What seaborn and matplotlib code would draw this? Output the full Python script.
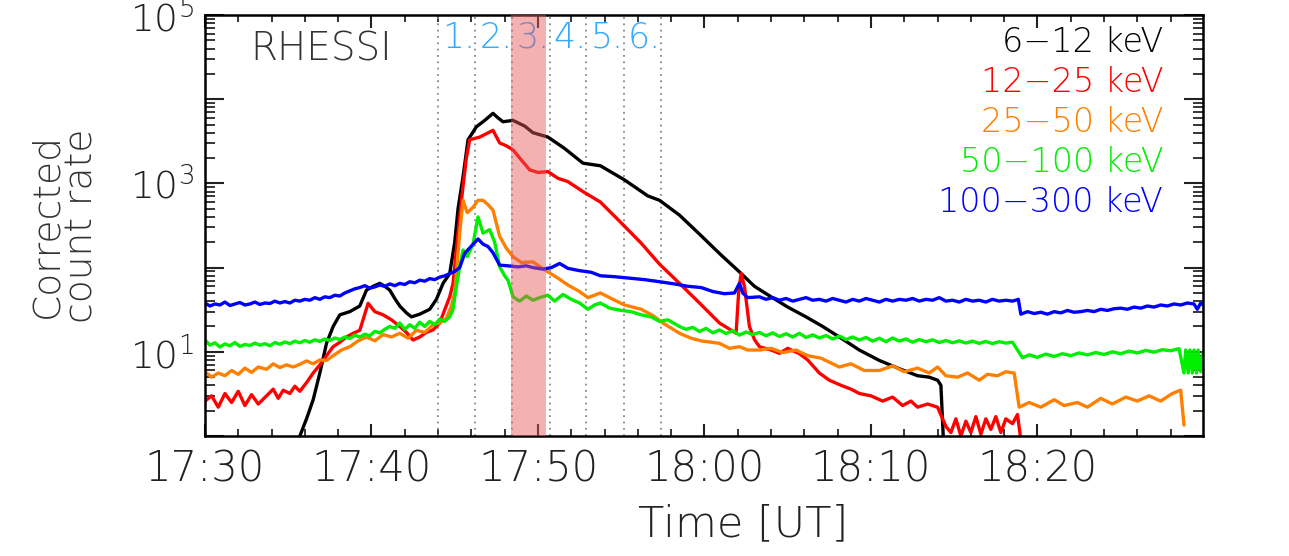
import numpy as np
import pandas as pd
import matplotlib
matplotlib.use("Agg")
import matplotlib.pyplot as plt
import matplotlib.dates as mdates
import matplotlib.ticker as mticker
import seaborn as sns

# minutes after 17:30 UT, corrected count rate
t_6_12 = [5.7, 6.1, 6.5, 6.9, 7.3, 7.7, 8.1, 8.7, 9.3, 9.7, 10.1, 10.5, 10.8, 11.1, 11.4, 11.7,
          12.1, 12.4, 12.9, 13.5, 13.9, 14.3, 14.7, 15.0, 15.2, 15.5, 15.8, 16.3, 16.8, 17.3,
          17.6, 17.9, 18.5, 19.2, 19.7, 20.6, 21.6, 22.7, 23.75, 25.2, 26.6, 27.3, 28.5, 29.7,
          31.0, 32.1, 33.0, 34.0, 35.0, 36.1, 37.1, 38.1, 39.3, 40.5, 41.7, 42.8, 43.5, 44.0,
          44.2, 44.35]
c_6_12 = [1.0, 1.6, 2.7, 5.6, 12.6, 20, 27.5, 30, 35, 54, 60, 65, 60, 54, 43, 35,
          29, 26, 28, 32, 42, 65, 85, 200, 500, 1200, 3300, 4700, 5600, 6800,
          6000, 5400, 5600, 4800, 4000, 3550, 2600, 1740, 1620, 1100, 710, 630, 420, 250,
          141, 89, 60, 45, 34, 26, 20, 15, 10.5, 7.9, 6.3, 5.2, 5.0, 4.6,
          4.0, 0.9]

t_12_25 = [0.0, 0.4, 0.8, 1.2, 1.6, 2.0, 2.4, 2.8, 3.2, 3.7, 4.1, 4.4, 4.7, 5.1, 5.4, 5.7,
           6.1, 6.5, 6.9, 7.3, 7.7, 8.1, 8.5, 8.9, 9.3, 9.8, 10.2, 10.7, 11.2, 11.7, 12.1,
           12.5, 12.9, 13.3, 13.7, 14.1, 14.4, 14.7, 14.9, 15.2, 15.45, 15.7, 15.9, 16.5,
           17.3, 17.7, 18.1, 18.5, 19.0, 19.5, 20.0, 20.6, 21.2, 21.8, 22.7, 23.75, 25.0,
           26.2, 27.3, 28.5, 29.7, 30.9, 31.9, 32.05, 32.2, 32.4, 32.7, 33.0, 33.3, 34.0,
           34.5, 35.0, 35.7, 36.2, 36.9, 37.5, 38.2, 38.8, 39.3, 40.0, 40.7, 41.3, 41.9,
           42.4, 42.8, 43.4, 44.0, 44.3, 44.5, 44.8, 45.1, 45.4, 45.7, 46.0, 46.3, 46.6,
           46.9, 47.2, 47.5, 47.8, 48.1, 48.5, 48.8, 49.0]
c_12_25 = [2.6, 3.0, 2.2, 3.2, 2.5, 3.4, 2.3, 3.1, 2.4, 3.0, 3.6, 2.8, 3.5, 3.2, 3.9, 3.4,
           4.3, 5.6, 7.0, 9.0, 11.5, 13, 15, 16.6, 18, 37.7, 30, 27.5, 24, 20, 17,
           13.8, 15, 17, 18.2, 22, 31.6, 45, 65, 257, 760, 2000, 3300, 3550,
           4270, 3020, 2800, 2500, 1900, 1450, 1350, 1380, 1150, 1050, 800, 600, 340,
           195, 110, 65, 38, 22, 16.6, 50, 85, 60, 20, 14, 11.5, 10.5,
           9.6, 11, 9.5, 8, 5.6, 4.6, 4.0, 3.6, 3.2, 3.0, 2.6, 2.9, 2.3,
           2.6, 2.2, 2.4, 2.2, 1.6, 1.3, 1.1, 1.6, 1.0, 1.5, 1.1, 1.7, 1.05,
           1.6, 1.2, 1.7, 1.1, 1.6, 1.4, 1.8, 0.9]

t_25_50 = [0.0, 0.4, 0.8, 1.2, 1.6, 2.0, 2.4, 2.8, 3.2, 3.7, 4.1, 4.5, 4.9, 5.3, 5.7, 6.1,
           6.5, 6.9, 7.3, 7.7, 8.2, 8.7, 9.2, 9.7, 10.2, 10.7, 11.2, 11.7, 12.2, 12.7, 13.2,
           13.7, 14.1, 14.5, 14.8, 15.0, 15.3, 15.5, 15.75, 16.1, 16.4, 16.7, 17.0, 17.3,
           17.7, 18.1, 18.5, 19.0, 19.7, 20.2, 20.6, 21.2, 21.8, 22.5, 23.0, 23.75, 24.5,
           25.2, 26.2, 26.9, 27.5, 28.5, 29.2, 29.8, 30.9, 31.5, 32.1, 32.6, 33.3, 34.0,
           34.7, 35.5, 36.2, 37.0, 38.1, 38.8, 39.6, 40.5, 41.3, 42.0, 42.8, 43.5, 44.0,
           44.5, 45.2, 45.8, 46.5, 47.0, 47.6, 48.1, 48.6, 48.9, 49.5, 50.2, 51.0, 51.6,
           52.4, 53.0, 53.8, 54.5, 55.3, 56.0, 56.7, 57.4, 58.1, 58.6, 58.8]
c_25_50 = [5.8, 5.0, 5.6, 5.2, 6.0, 5.4, 6.4, 5.7, 6.6, 6.2, 7.2, 6.5, 7.0, 6.6, 7.1, 7.8,
           7.2, 8.0, 7.9, 9.0, 10.5, 11.5, 13.5, 15, 13.5, 16, 15, 16.6, 14.5, 18, 17,
           21, 22, 25, 35, 50, 257, 630, 450, 520, 630, 630, 560, 480,
           235, 170, 135, 115, 117, 100, 89, 75, 62, 52, 44, 50, 42,
           36, 32, 27, 22, 16.6, 14.5, 13.5, 12.6, 11, 11.5, 10.5, 10.5, 11,
           9.8, 10.5, 9.0, 8.4, 6.6, 7.2, 6.0, 6.0, 6.8, 5.8, 6.4, 5.6, 6.6,
           5.2, 5.0, 5.6, 4.6, 5.4, 5.2, 5.8, 5.6, 2.2, 2.5, 2.2, 2.7, 2.3,
           2.5, 2.2, 2.8, 2.4, 2.9, 2.6, 3.0, 2.6, 3.2, 3.5, 1.35]

t_50_100 = [0.0, 0.3, 0.6, 0.9, 1.2, 1.5, 1.8, 2.1, 2.4, 2.7, 3.0, 3.3, 3.6, 3.9, 4.2, 4.5,
            4.8, 5.1, 5.4, 5.7, 6.0, 6.3, 6.6, 6.9, 7.2, 7.5, 7.8, 8.1, 8.4, 8.7, 9.0, 9.3,
            9.6, 9.9, 10.2, 10.5, 10.8, 11.1, 11.4, 11.7, 12.0, 12.3, 12.6, 12.9, 13.2, 13.5,
            13.8, 14.1, 14.4, 14.7,
            14.9, 15.1, 15.3, 15.5, 15.75, 16.1, 16.4, 16.7, 17.1, 17.4, 17.7, 18.0, 18.2,
            18.5, 18.9, 19.3, 19.7, 20.1, 20.6, 21.0, 21.5, 22.0, 22.5, 23.0, 23.4, 23.75,
            24.3, 25.0, 25.6, 26.2, 26.8, 27.3, 27.8,
            28.5, 28.9, 29.3, 29.7, 30.1, 30.5, 30.9, 31.3, 31.7, 32.1, 32.5, 32.9, 33.3,
            33.7, 34.1, 34.5, 34.9, 35.3, 35.7, 36.1, 36.5, 36.9, 37.3, 37.7, 38.1, 38.5,
            38.9, 39.3, 39.7, 40.1, 40.5, 40.9, 41.3, 41.7, 42.1, 42.5, 42.9, 43.3, 43.7,
            44.1, 44.5, 44.9, 45.3, 45.7, 46.1, 46.5, 46.9, 47.3, 47.7, 48.1, 48.5,
            49.1, 49.5, 50.0, 50.5, 51.0, 51.5, 52.0, 52.5, 53.0, 53.5, 54.0, 54.5, 55.0,
            55.5, 56.0, 56.5, 57.0, 57.5, 58.0, 58.5,
            58.8, 58.9, 59.05, 59.15, 59.3, 59.4, 59.55, 59.65, 59.8, 59.95]
c_50_100 = [13.8, 12.0, 12.8, 11.4, 12.4, 11.8, 12.9, 11.6, 12.2, 11.9, 12.7, 12.0, 12.5, 11.8, 12.9, 12.3,
            13.1, 12.5, 13.4, 12.8, 13.6, 13.0, 13.9, 13.3, 14.2, 13.6, 14.6, 14.0, 15.0, 14.4, 15.8, 15.0,
            16.2, 15.5, 17.5, 16.8, 18.5, 20, 19, 22, 18.5, 21, 19, 22.5, 20, 23,
            21, 24.5, 23, 26,
            32, 60, 102, 162, 135, 190, 400, 257, 282, 200, 102, 80, 71,
            45, 40, 46, 41, 44, 47, 40, 48, 42, 38, 32, 36, 38,
            33, 31, 30, 27.5, 26, 23, 24,
            20, 18.5, 19.5, 17.4, 19, 16.8, 18.2, 16.5, 17.8, 15.8, 17.2, 16.0, 17.0,
            15.5, 16.8, 15.2, 16.4, 15.0, 16.6, 14.8, 15.9, 14.6, 15.6, 14.2, 15.4, 14.0,
            15.0, 13.8, 14.8, 13.4, 14.5, 13.2, 14.6, 13.4, 14.2, 13.0, 14.0, 13.2, 13.9,
            12.9, 13.6, 12.8, 13.5, 12.7, 13.4, 12.6, 13.3, 12.5, 13.2, 12.7, 13.0,
            8.5, 9.2, 8.6, 9.4, 8.8, 9.5, 9.0, 9.7, 9.2, 9.8, 9.3, 10.0, 9.5,
            10.2, 9.7, 10.4, 9.9, 10.6, 10.3, 10.9,
            5.6, 10.5, 5.6, 10.5, 5.6, 10.5, 5.6, 10.5, 5.8, 10.0]

t_100_300 = [0.0, 0.3, 0.6, 0.9, 1.2, 1.5, 1.8, 2.1, 2.4, 2.7, 3.0, 3.3, 3.6, 3.9, 4.2, 4.5,
             4.8, 5.1, 5.4, 5.7, 6.0, 6.3, 6.6, 6.9, 7.2, 7.5, 7.8, 8.1, 8.4, 8.7, 9.0, 9.3,
             9.6, 9.9, 10.2, 10.5, 10.8, 11.1, 11.4, 11.7, 12.0, 12.3, 12.6, 12.9, 13.2, 13.5,
             13.8, 14.1, 14.4, 14.7, 15.0,
             15.3, 15.6, 16.0, 16.4, 16.7, 17.0, 17.3, 17.7, 18.2, 18.8, 19.3, 19.7, 20.3,
             20.8, 21.3, 21.8, 22.5, 23.2, 23.75, 24.6, 25.5, 26.4, 27.3, 28.2, 29.0, 29.8,
             30.5, 31.2, 31.8, 32.1, 32.3, 32.6,
             33.3, 33.7, 34.1, 34.5, 34.9, 35.3, 35.7, 36.1, 36.5, 36.9, 37.3, 37.7, 38.1,
             38.5, 38.9, 39.3, 39.7, 40.1, 40.5, 40.9, 41.3, 41.7, 42.1, 42.5, 42.9, 43.3,
             43.7, 44.1, 44.5, 44.9, 45.3, 45.7, 46.1, 46.5, 46.9, 47.3, 47.7, 48.1, 48.5,
             48.85,
             49.0, 49.4, 49.8, 50.2, 50.6, 51.0, 51.4, 51.8, 52.2, 52.6, 53.0, 53.4, 53.8,
             54.2, 54.6, 55.0, 55.4, 55.8, 56.2, 56.6, 57.0, 57.4, 57.8, 58.2, 58.6, 59.0,
             59.4, 59.6, 59.8, 59.95]
c_100_300 = [38, 35, 37, 36, 39, 35.5, 37, 38.5, 36, 37, 39, 36.5, 38, 37.5, 40, 38,
             39.5, 38, 41, 40, 42, 41, 44, 42, 45, 44, 47, 46, 50, 53, 56, 58,
             61, 57, 59, 62, 60, 64, 61, 65, 63, 68, 66, 71, 69, 74,
             72, 77, 80, 85, 90,
             100, 148, 180, 219, 190, 178, 150, 107, 105, 102, 105, 100, 96,
             100, 112, 98, 92, 88, 80, 78, 75, 72, 68, 64, 60, 58,
             52, 49, 50, 65, 50, 44,
             45, 42, 44, 41, 43, 40, 42, 44, 41, 42, 40, 43, 41,
             39, 42, 40, 43, 41, 39, 42, 40, 42, 41, 43, 40, 42,
             41, 44, 40, 41, 39, 42, 40, 41, 39, 42, 40, 41, 40,
             42,
             28, 30, 28.5, 29.5, 28, 30, 29, 31, 29.5, 30, 31, 30, 32,
             31, 32.5, 33, 32, 34, 33, 35, 34, 36, 35, 37, 36, 38,
             37, 32, 38, 36]

bands = ["6\u221212 keV", "12\u221225 keV", "25\u221250 keV", "50\u2212100 keV", "100\u2212300 keV"]
band_colors = ["black", "#ff0000", "#ff8000", "#00ee00", "#0000ff"]

# time-interval boundaries (minutes after 17:30) and the highlighted interval
interval_edges = [13.97, 16.24, 18.44, 20.7, 22.89, 25.15, 27.36]
interval_names = ["1.", "2.", "3.", "4.", "5.", "6."]
highlight = [18.4, 20.5]

t0 = pd.Timestamp("2000-01-01 17:30:00")


def to_time(minutes):
    return t0 + pd.to_timedelta(np.asarray(minutes, dtype=float), unit="min")


series = [(t_6_12, c_6_12), (t_12_25, c_12_25), (t_25_50, c_25_50),
          (t_50_100, c_50_100), (t_100_300, c_100_300)]
frames = []
for name, (t, c) in zip(bands, series):
    frames.append(pd.DataFrame({"time": to_time(t), "rate": c, "band": name}))
df = pd.concat(frames, ignore_index=True)

sns.set_theme(style="ticks")
plt.rcParams["font.family"] = ["DejaVu Sans"]
plt.rcParams["font.weight"] = 200
plt.rcParams["axes.labelweight"] = 200
plt.rcParams["mathtext.default"] = "regular"

fig = plt.figure(figsize=(12.89, 5.56), dpi=100)
ax = fig.add_axes([0.159, 0.2158, 0.7744, 0.7572])

for x in interval_edges:
    ax.axvline(to_time([x])[0], color="#888888", linestyle=(0, (1, 2.5)), lw=1.3, zorder=1)

sns.lineplot(data=df, x="time", y="rate", hue="band", hue_order=bands,
             palette=band_colors, estimator=None, sort=False, lw=2.4,
             legend=False, ax=ax, zorder=2)

ax.axvspan(to_time([highlight[0]])[0], to_time([highlight[1]])[0],
           color=(0.9, 0.35, 0.35), alpha=0.47, lw=0, zorder=3)

ax.set_yscale("log")
ax.set_ylim(1, 1e5)
ax.set_xlim(to_time([0])[0], to_time([59.95])[0])

ax.xaxis.set_major_locator(mdates.MinuteLocator(byminute=range(0, 60, 10)))
ax.xaxis.set_minor_locator(mdates.MinuteLocator(byminute=range(0, 60, 2)))
ax.xaxis.set_major_formatter(mdates.DateFormatter("%H:%M"))

ax.yaxis.set_major_locator(mticker.LogLocator(base=10, numticks=10))
ax.yaxis.set_minor_locator(mticker.LogLocator(base=10, subs=np.arange(2, 10), numticks=20))
ax.yaxis.set_minor_formatter(mticker.NullFormatter())


def fmt_log(v, pos):
    e = int(round(np.log10(v)))
    return r"$10^{%d}$" % e if e % 2 == 1 else ""


ax.yaxis.set_major_formatter(mticker.FuncFormatter(fmt_log))

ax.tick_params(axis="x", which="major", direction="in", length=9, width=1.5,
               top=True, pad=9, labelsize=30, colors="#222222")
ax.tick_params(axis="x", which="minor", direction="in", length=5, width=1.3, top=True)
ax.tick_params(axis="y", which="major", direction="in", length=14, width=1.5,
               right=True, pad=8, labelsize=27, colors="#222222")
ax.tick_params(axis="y", which="minor", direction="in", length=7, width=1.3, right=True)
for s in ax.spines.values():
    s.set_linewidth(1.8)
    s.set_color("black")

ax.set_xlabel("Time [UT]", fontsize=31, color="#222222")
ax.xaxis.set_label_coords(0.539, -0.16)
ax.xaxis.label.set_verticalalignment("top")
ax.set_ylabel("Corrected\ncount rate", fontsize=27, color="#333333", linespacing=1.0)
ax.yaxis.set_label_coords(-0.106, 0.5)

ax.text(0.045, 0.893, "RHESSI", transform=ax.transAxes, fontsize=28,
        color="#333333", va="baseline", ha="left")

for x, lab in zip(interval_edges[:-1], interval_names):
    ax.annotate(lab, xy=(to_time([x])[0], 0.922), xycoords=("data", "axes fraction"),
                xytext=(3, 0), textcoords="offset points", fontsize=25,
                color="#33aaff", va="baseline", ha="left", zorder=2.5)

for i, (name, col) in enumerate(zip(bands, band_colors)):
    ax.text(0.96, 0.912 - i * 0.095, name, transform=ax.transAxes, fontsize=24,
            color=col, ha="right", va="baseline")

fig.savefig("out.png", dpi=100)
